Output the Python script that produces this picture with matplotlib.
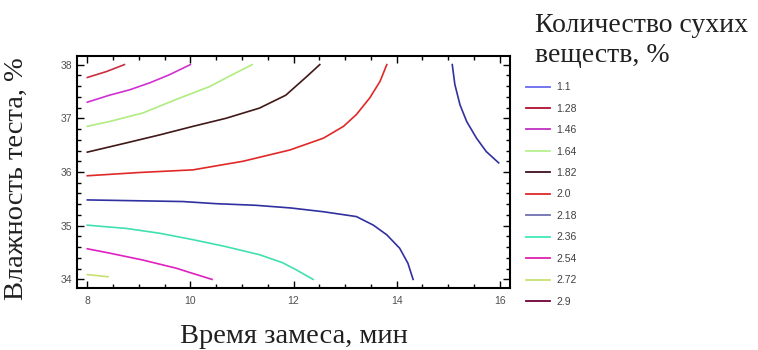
import matplotlib
matplotlib.use("Agg")
import matplotlib.pyplot as plt
from matplotlib.lines import Line2D

# Contour levels and their colours (legend)
levels = ["1.1", "1.28", "1.46", "1.64", "1.82", "2.0", "2.18", "2.36", "2.54", "2.72", "2.9"]
level_colors = ["#6a6af0", "#b01030", "#c030c0", "#b8f090", "#401020", "#e02828",
                "#7070b0", "#40e8b8", "#e020b0", "#c8e070", "#700038"]

c128_x = [8.0, 8.37, 8.72]
c128_y = [37.76, 37.87, 38.0]
c146_x = [8.0, 8.43, 8.82, 9.21, 9.59, 10.0]
c146_y = [37.30, 37.43, 37.53, 37.66, 37.81, 38.0]
c164_x = [8.0, 8.43, 9.08, 9.72, 10.37, 10.89, 11.2]
c164_y = [36.85, 36.94, 37.10, 37.35, 37.59, 37.85, 38.0]
c182_x = [8.0, 8.75, 9.40, 10.05, 10.69, 11.34, 11.85, 12.26, 12.51]
c182_y = [36.37, 36.54, 36.69, 36.85, 37.0, 37.19, 37.43, 37.78, 38.0]
c200_x = [8.0, 9.0, 10.05, 11.02, 11.93, 12.58, 12.97, 13.22, 13.48, 13.68, 13.81]
c200_y = [35.93, 35.99, 36.04, 36.20, 36.41, 36.63, 36.85, 37.07, 37.38, 37.69, 38.0]
c218a_x = [8.0, 9.85, 10.5, 11.27, 11.95, 12.58, 13.22, 13.55, 13.81, 14.06, 14.22, 14.32]
c218a_y = [35.48, 35.45, 35.41, 35.38, 35.33, 35.26, 35.17, 35.01, 34.83, 34.58, 34.30, 34.0]
c218b_x = [15.08, 15.13, 15.23, 15.36, 15.55, 15.74, 15.98]
c218b_y = [38.0, 37.63, 37.25, 36.94, 36.63, 36.38, 36.17]
c236_x = [8.0, 8.75, 9.40, 10.05, 10.69, 11.34, 11.79, 12.05, 12.38]
c236_y = [35.01, 34.95, 34.86, 34.74, 34.61, 34.46, 34.31, 34.18, 34.0]
c254_x = [8.0, 8.43, 9.08, 9.72, 10.05, 10.42]
c254_y = [34.57, 34.49, 34.36, 34.21, 34.11, 34.0]
c272_x = [8.0, 8.2, 8.4]
c272_y = [34.09, 34.07, 34.05]

xticks = [8, 10, 12, 14, 16]
yticks = [34, 35, 36, 37, 38]

plot_colors = {
    "c128": "#c83040", "c146": "#d030d0", "c164": "#b0ec80", "c182": "#401818",
    "c200": "#e02828", "c218": "#3030a0", "c236": "#40e0b0", "c254": "#e020c0",
    "c272": "#c8e070",
}

fig = plt.figure(figsize=(7.58, 3.5), dpi=100)
ax = fig.add_axes([77 / 758, 62 / 350, 433 / 758, 232 / 350])

lw = 1.2
ax.plot(c128_x, c128_y, color=plot_colors["c128"], lw=lw)
ax.plot(c146_x, c146_y, color=plot_colors["c146"], lw=lw)
ax.plot(c164_x, c164_y, color=plot_colors["c164"], lw=lw)
ax.plot(c182_x, c182_y, color=plot_colors["c182"], lw=lw)
ax.plot(c200_x, c200_y, color=plot_colors["c200"], lw=lw)
ax.plot(c218a_x, c218a_y, color=plot_colors["c218"], lw=lw)
ax.plot(c218b_x, c218b_y, color=plot_colors["c218"], lw=lw)
ax.plot(c236_x, c236_y, color=plot_colors["c236"], lw=lw)
ax.plot(c254_x, c254_y, color=plot_colors["c254"], lw=lw)
ax.plot(c272_x, c272_y, color=plot_colors["c272"], lw=lw)

ax.set_xlim(7.8, 16.2)
ax.set_ylim(33.84, 38.16)
ax.set_xticks(xticks)
ax.set_yticks(yticks)
ax.set_xticks([v / 2 for v in range(16, 33)], minor=True)
ax.set_yticks([34 + v * 0.2 for v in range(21)], minor=True)
ax.tick_params(which="both", direction="in", top=True, right=True, colors="black",
               labelcolor="#505050", labelsize=7.5, width=1)
ax.tick_params(which="major", length=5)
ax.tick_params(which="minor", length=3)
for lab in ax.get_xticklabels() + ax.get_yticklabels():
    lab.set_fontfamily("Liberation Sans")
ax.tick_params(axis="x", pad=6)
for s in ax.spines.values():
    s.set_linewidth(1.5)
    s.set_color("black")

serif = "Liberation Serif"
ax.set_xlabel("Время замеса, мин", family=serif, fontsize=20.5, color="#202020", va="center")
ax.xaxis.set_label_coords(0.501, -0.211)
ax.set_ylabel("Влажность теста, %", family=serif, fontsize=20.5, color="#202020", va="center")
ax.yaxis.set_label_coords(-0.141, 0.47)

fig.text(535 / 758, 1 - 31.7 / 350, "Количество сухих", family=serif, fontsize=20,
         color="#202020", ha="left", va="baseline")
fig.text(535 / 758, 1 - 61.7 / 350, "веществ, %", family=serif, fontsize=20,
         color="#202020", ha="left", va="baseline")

handles = [Line2D([0], [0], color=c, lw=1.3) for c in level_colors]
leg = fig.legend(handles, levels, loc="upper left", bbox_to_anchor=(522 / 758, 1 - 78 / 350),
                 frameon=False, fontsize=7.5, handlelength=2.3, handletextpad=0.6,
                 labelspacing=1.1, borderaxespad=0)
for t in leg.get_texts():
    t.set_color("#404040")
    t.set_fontfamily("Liberation Sans")

fig.savefig("out.png", dpi=100)
